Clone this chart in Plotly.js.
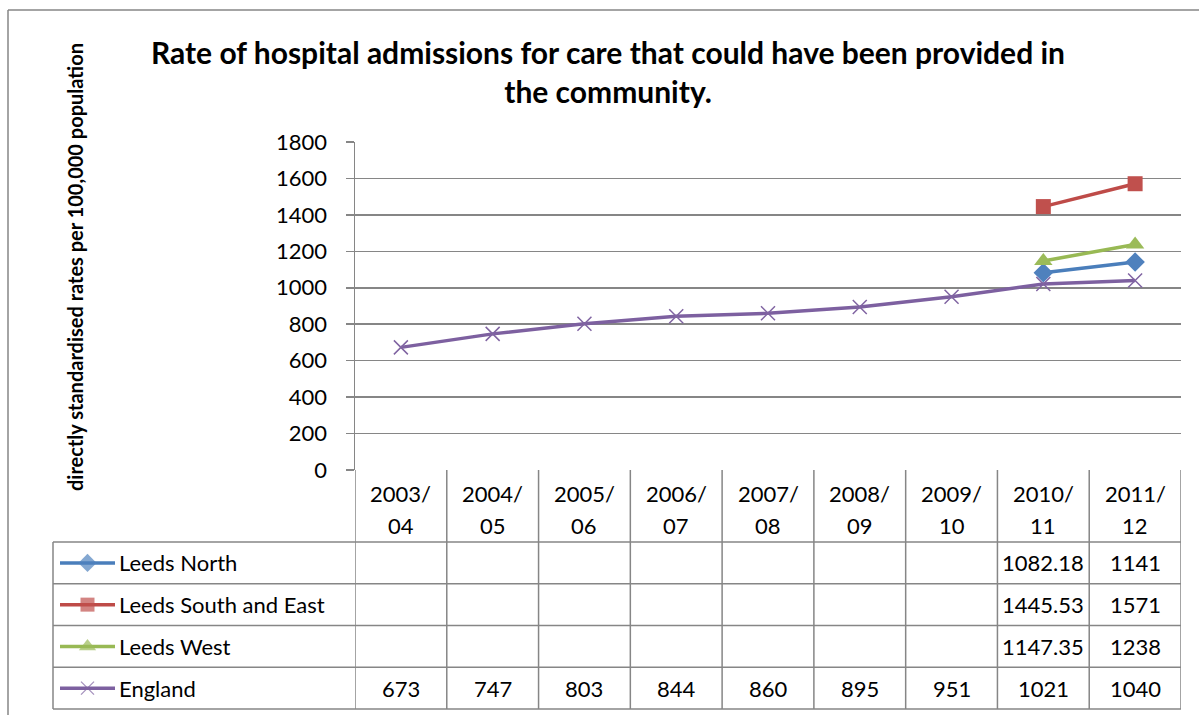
<!DOCTYPE html>
<html>
<head>
<meta charset="utf-8">
<script src="https://cdn.plot.ly/plotly-3.0.1.min.js"></script>
<style>html,body{margin:0;padding:0;background:#fff;}#chart{width:1199px;height:715px;}</style>
</head>
<body>
<div id="chart"></div>
<script>
// ---- data ----
const categories = ["2003/04","2004/05","2005/06","2006/07","2007/08","2008/09","2009/10","2010/11","2011/12"];
const leedsNorth = [null,null,null,null,null,null,null,1082.18,1141];
const leedsSouthEast = [null,null,null,null,null,null,null,1445.53,1571];
const leedsWest = [null,null,null,null,null,null,null,1147.35,1238];
const england = [673,747,803,844,860,895,951,1021,1040];
const seriesNames = ["Leeds North","Leeds South and East","Leeds West","England"];
const yTicks = [0,200,400,600,800,1000,1200,1400,1600,1800];
const titleText = "Rate of hospital admissions for care that could have been provided in<br>the community.";
const yTitleText = "directly standardised rates per 100,000 population";

// ---- styling ----
const W = 1199, H = 715;
const FONT = "Lato, 'Open Sans', sans-serif";
const GRID = "#868686";
const lineColors = ["#4A7EBB","#BE4B48","#98B954","#7D60A0"];
const markerColors = ["#4F81BD","#C0504D","#9BBB59","#8064A2"];
const symbols = ["diamond","square","triangle-up","x-thin"];
const msizes = [15,15,16,14];
const px = x => x / W;
const py = y => (H - y) / H;

const plotLeft = 355, plotRight = 1181, plotTop = 142, plotBottom = 470;
const headerBottom = 542, rowH = 41.75, legLeft = 53;
const rowTops = [0,1,2,3,4].map(i => headerBottom + i*rowH);
const rowCenters = [0,1,2,3].map(i => headerBottom + (i+0.5)*rowH);

const allSeries = [leedsNorth, leedsSouthEast, leedsWest, england];
const xs = categories.map((c,i)=>i);

const traces = allSeries.map((s,k)=>({
  type:"scatter", mode:"lines+markers", x:xs, y:s, name:seriesNames[k],
  connectgaps:false, showlegend:false, cliponaxis:false,
  line:{color:lineColors[k], width:3.5},
  marker:{symbol:symbols[k], size:msizes[k], color:markerColors[k],
          line:{color:markerColors[k], width:k===3?1.5:0}},
  xaxis:"x", yaxis:"y", hoverinfo:"x+y"
}));

// legend samples in table
seriesNames.forEach((n,k)=>{
  traces.push({
    type:"scatter", mode:"lines+markers", x:[0,0.5,1], y:[k,k,k], showlegend:false,
    line:{color:lineColors[k], width:3.5},
    marker:{symbol:symbols[k], size:[0,msizes[k]-1,0], color:markerColors[k],
            line:{color:markerColors[k], width:k===3?1.3:0}},
    xaxis:"x2", yaxis:"y2", hoverinfo:"skip", cliponaxis:false
  });
});

const shapes = [];
const gl = {color:GRID, width:1.5};
// outer border
shapes.push({type:"line", xref:"paper", yref:"paper", x0:px(8), x1:px(8), y0:py(10), y1:py(715), line:gl});
shapes.push({type:"line", xref:"paper", yref:"paper", x0:px(8), x1:px(1199), y0:py(10), y1:py(10), line:gl});
// vertical column lines
for (let i=0;i<=categories.length;i++){
  shapes.push({type:"line", xref:"x", yref:"paper", x0:i-0.5, x1:i-0.5, y0:py(plotBottom), y1:py(rowTops[4]), line:gl});
}
// horizontal row lines
rowTops.forEach(t=>{
  shapes.push({type:"line", xref:"paper", yref:"paper", x0:px(legLeft), x1:px(plotRight), y0:py(t), y1:py(t), line:gl});
});
// legend left line
shapes.push({type:"line", xref:"paper", yref:"paper", x0:px(legLeft), x1:px(legLeft), y0:py(headerBottom), y1:py(rowTops[4]), line:gl});

const annotations = [];
const tf = {family:FONT, size:22, color:"#000"};
// header labels
categories.forEach((c,i)=>{
  const parts = c.split("/");
  annotations.push({xref:"x", yref:"paper", x:i, y:py(493), text:parts[0]+"/", showarrow:false, font:tf, xanchor:"center", yanchor:"middle"});
  annotations.push({xref:"x", yref:"paper", x:i, y:py(525), text:parts[1], showarrow:false, font:tf, xanchor:"center", yanchor:"middle"});
});
// legend names and values
allSeries.forEach((s,k)=>{
  annotations.push({xref:"paper", yref:"paper", x:px(117), y:py(rowCenters[k]), text:seriesNames[k], showarrow:false, font:tf, xanchor:"left", yanchor:"middle"});
  s.forEach((v,i)=>{
    if (v===null) return;
    annotations.push({xref:"x", yref:"paper", x:i, y:py(rowCenters[k]), text:String(v), showarrow:false, font:tf, xanchor:"center", yanchor:"middle"});
  });
});
// title
annotations.push({xref:"paper", yref:"paper", x:px(608), y:py(71), text:"<b>"+titleText+"</b>", showarrow:false,
  font:{family:FONT, size:30, color:"#000"}, xanchor:"center", yanchor:"middle", align:"center"});
// y title
annotations.push({xref:"paper", yref:"paper", x:px(75), y:py(267), text:"<b>"+yTitleText+"</b>", showarrow:false,
  font:{family:FONT, size:20, color:"#000"}, textangle:-90, xanchor:"center", yanchor:"middle"});

const layout = {
  width:W, height:H, margin:{l:0,r:0,t:0,b:0},
  paper_bgcolor:"#fff", plot_bgcolor:"#fff", showlegend:false,
  font:{family:FONT, color:"#000"},
  xaxis:{domain:[px(plotLeft), px(plotRight)], range:[-0.5, categories.length-0.5], showgrid:false, zeroline:false,
         showticklabels:false, ticks:"", showline:false, fixedrange:true},
  yaxis:{domain:[py(plotBottom), py(plotTop)], range:[0,1800], tickvals:yTicks, ticktext:yTicks.map(String),
         showgrid:true, gridcolor:GRID, gridwidth:1.5, zeroline:false,
         showline:true, linecolor:GRID, linewidth:1.5, ticks:"outside", ticklen:8, tickcolor:GRID, tickwidth:1.5,
         tickfont:{family:FONT, size:22, color:"#000"}, ticklabelstandoff:14, fixedrange:true},
  xaxis2:{domain:[px(60), px(115)], range:[0,1], visible:false, fixedrange:true},
  yaxis2:{domain:[py(rowTops[4]), py(headerBottom)], range:[3.5,-0.5], visible:false, fixedrange:true},
  shapes:shapes, annotations:annotations
};

Plotly.newPlot("chart", traces, layout, {displayModeBar:false, staticPlot:true});
</script>
</body>
</html>
